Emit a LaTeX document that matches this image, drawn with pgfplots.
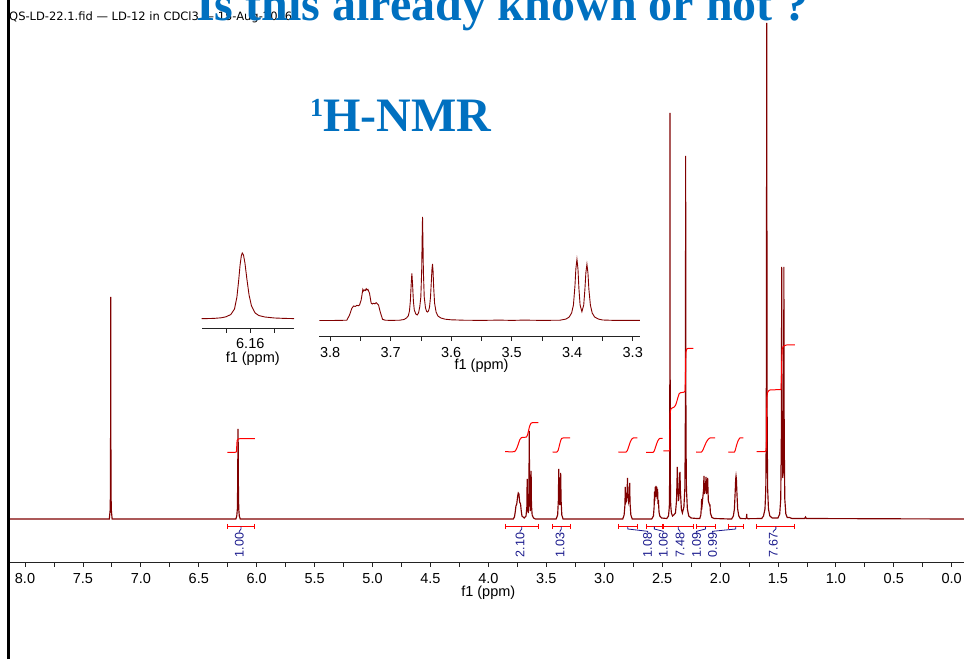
\documentclass[border=0pt]{standalone}
\usepackage{pgfplots}
\pgfplotsset{compat=1.18}
\usepackage{fontspec}
\setmainfont{Liberation Sans}
\newfontfamily\titlefont{Liberation Serif}
\newfontfamily\hdrfont{DejaVu Sans}
\definecolor{spec}{RGB}{128,0,0}
\definecolor{intred}{RGB}{255,0,0}
\definecolor{intblue}{RGB}{25,25,140}
\definecolor{titleblue}{RGB}{0,112,192}
\definecolor{axgray}{RGB}{35,35,35}
\pgfplotsset{nmr/.style={scale only axis, axis x line*=bottom, axis y line=none,
  x dir=reverse, clip=false, tick align=outside,
  major tick length=4pt, minor tick length=4pt,
  x axis line style={-, axgray, line width=1pt},
  every tick/.style={axgray, line width=0.8pt},
  xticklabel style={font=\fontsize{14.5}{15}\selectfont, anchor=center, inner sep=0pt, yshift=-12.3pt},
  xlabel style={font=\fontsize{14.5}{15}\selectfont, anchor=center, inner sep=0pt},
  ytick=\empty}}
\newcommand{\integ}[5]{% start, end, center, labelx, text
  \draw[intred, line width=1pt] (axis cs:#1,-7.7) -- (axis cs:#2,-7.7);
  \draw[intred, line width=1pt] (axis cs:#1,-5) -- (axis cs:#1,-10.4);
  \draw[intred, line width=1pt] (axis cs:#2,-5) -- (axis cs:#2,-10.4);
  \draw[intblue, line width=0.8pt] (axis cs:#3,-7.7) -- (axis cs:#3,-10) -- (axis cs:#4,-12.3) -- (axis cs:#4,-13.5);
  \node[intblue, rotate=90, anchor=east, inner sep=0pt, font=\fontsize{12.5}{13}\selectfont] at (axis cs:#4,-13.7) {#5};
}
\begin{document}
\begin{tikzpicture}
% header
\node[anchor=west, inner sep=0pt, font=\hdrfont\fontsize{11.5}{13}\selectfont] at (9pt,642pt) {QS-LD-22.1.fid — LD-12 in CDCl3 — 15-Aug-2016};
% main spectrum
\begin{axis}[nmr, at={(8pt,96.3pt)}, anchor=south west, width=956pt, height=562.7pt,
  xmin=-0.106, xmax=8.147, ymin=-43.7, ymax=519,
  xtick={0,0.5,1,1.5,2,2.5,3,3.5,4,4.5,5,5.5,6,6.5,7,7.5,8},
  xticklabels={0.0,0.5,1.0,1.5,2.0,2.5,3.0,3.5,4.0,4.5,5.0,5.5,6.0,6.5,7.0,7.5,8.0},
  minor x tick num=1,
  xlabel={f1 (ppm)}, xlabel style={at={(axis description cs:0.5024,0)}, yshift=-30.3pt}]
\addplot[spec, line width=1.15pt] coordinates {
(8.147,0) (7.30,0)
(7.272,0) (7.265,9) (7.2625,27) (7.261,100) (7.26,222) (7.259,100) (7.2575,27) (7.255,9) (7.248,0)
(6.50,0)
(6.18,0) (6.172,3) (6.167,10) (6.164,35) (6.162,80) (6.161,90) (6.160,80) (6.158,35) (6.155,10) (6.150,3) (6.142,0)
(3.80,0)
(3.785,0) (3.775,2) (3.768,7) (3.762,13) (3.755,15) (3.748,22) (3.742,26) (3.736,25) (3.730,17) (3.722,15) (3.716,8) (3.710,3) (3.700,2)
(3.690,1) (3.675,3) (3.668,12) (3.665,40) (3.662,12) (3.656,6) (3.650,28) (3.647,88) (3.644,28) (3.639,8) (3.634,16) (3.631,48) (3.628,14) (3.622,4) (3.610,1) (3.595,0)
(3.415,0) (3.402,4) (3.396,18) (3.392,50) (3.388,20) (3.384,14) (3.380,18) (3.376,46) (3.372,18) (3.366,4) (3.355,0)
(2.86,0)
(2.840,0) (2.828,4) (2.821,14) (2.818,32) (2.815,16) (2.808,18) (2.802,28) (2.799,41) (2.796,26) (2.790,18) (2.783,24) (2.780,36) (2.777,16) (2.770,4) (2.758,0)
(2.590,0) (2.575,3) (2.569,12) (2.566,27) (2.563,18) (2.560,32) (2.557,22) (2.553,33) (2.550,24) (2.546,32) (2.543,20) (2.539,30) (2.536,15) (2.532,19) (2.527,7) (2.520,3) (2.505,1)
(2.46,0.5) (2.445,3) (2.438,12) (2.435,40) (2.433,170) (2.432,406) (2.431,170) (2.429,40) (2.426,14) (2.42,6) (2.41,3) (2.40,4)
(2.385,6) (2.376,18) (2.372,35) (2.369,52) (2.365,32) (2.358,18) (2.352,28) (2.349,44) (2.346,47) (2.342,28) (2.334,10) (2.325,6)
(2.312,12) (2.304,30) (2.300,80) (2.298,200) (2.297,363) (2.296,200) (2.294,80) (2.290,30) (2.282,10) (2.270,3) (2.25,1) (2.20,0.5)
(2.175,0.5) (2.166,4) (2.161,12) (2.159,20) (2.154,15) (2.142,30) (2.139,43) (2.134,25) (2.124,35) (2.121,42) (2.116,25) (2.110,35) (2.107,41) (2.101,18) (2.090,14) (2.087,14) (2.083,6) (2.07,1.5) (2.05,0.5)
(1.92,0)
(1.90,0) (1.885,3) (1.876,10) (1.869,28) (1.865,40) (1.862,43) (1.859,40) (1.855,28) (1.848,10) (1.838,3) (1.825,0.5)
(1.780,0.3) (1.772,1) (1.770,5) (1.768,1) (1.76,0.3)
(1.64,0.5) (1.625,3) (1.612,10) (1.605,30) (1.601,90) (1.599,250) (1.597,496) (1.595,250) (1.593,90) (1.589,30) (1.582,10) (1.57,3) (1.55,1)
(1.50,1) (1.485,5) (1.476,20) (1.471,80) (1.469,180) (1.468,252) (1.466,150) (1.463,70) (1.458,41) (1.453,70) (1.450,150) (1.449,252) (1.448,180) (1.446,80) (1.441,20) (1.432,5) (1.42,1.5)
(1.40,1.5) (1.38,0.5) (1.27,0.5) (1.262,2) (1.255,0.5) (0.0,0) (-0.106,0)
};
% integral curves
\addplot[intred, line width=1pt, smooth] coordinates {(6.254,66.7) (6.185,66.7) (6.175,67.2) (6.173,70) (6.171,76) (6.168,78.8) (6.160,79.8) (6.144,80.3) (6.015,80.3)};
\addplot[intred, line width=1pt, smooth] coordinates {(3.856,67.3) (3.775,67.3) (3.765,68.5) (3.752,71.5) (3.740,75.5) (3.728,79.5) (3.715,81.3) (3.700,81.7) (3.672,81.9) (3.662,84) (3.652,89) (3.642,93.5) (3.632,95.8) (3.620,96.3) (3.569,96.3)};
\addplot[intred, line width=1pt, smooth] coordinates {(3.445,67) (3.408,67) (3.398,68.5) (3.388,73) (3.378,77.5) (3.368,80.5) (3.355,81) (3.295,81)};
\addplot[intred, line width=1pt, smooth] coordinates {(2.878,67) (2.810,67) (2.800,68.5) (2.788,72.5) (2.775,77) (2.760,80.2) (2.749,81) (2.714,81)};
\addplot[intred, line width=1pt, smooth] coordinates {(2.639,66.7) (2.578,66.7) (2.568,68) (2.555,72.5) (2.540,77.5) (2.525,80.3) (2.518,80.7) (2.495,80.7)};
\addplot[intred, line width=1pt] coordinates {(2.490,68) (2.438,68) (2.434,70) (2.432,90) (2.430,106) (2.426,109.5) (2.418,110.7) (2.395,112) (2.383,114) (2.372,118) (2.365,121) (2.352,125.5) (2.340,126.3) (2.311,126.8) (2.302,128) (2.299,140) (2.297,158) (2.294,167) (2.288,170) (2.275,170.7) (2.231,170.7)};
\addplot[intred, line width=1pt, smooth] coordinates {(2.207,67) (2.160,67) (2.150,68.5) (2.135,72.5) (2.118,77) (2.100,80) (2.087,81) (2.043,81)};
\addplot[intred, line width=1pt, smooth] coordinates {(1.929,67) (1.875,67) (1.868,69) (1.858,73.5) (1.845,78) (1.833,80.5) (1.828,81) (1.799,81)};
\addplot[intred, line width=1pt] coordinates {(1.684,67.3) (1.612,67.3) (1.602,68.5) (1.598,80) (1.597,110) (1.595,122) (1.590,126.5) (1.578,128.5) (1.569,129) (1.474,129.5) (1.470,140) (1.467,160) (1.463,170) (1.455,172.5) (1.440,173.5) (1.425,174) (1.353,174)};
% integration brackets and values
\integ{6.254}{6.015}{6.135}{6.150}{1.00}
\integ{3.856}{3.569}{3.712}{3.727}{2.10}
\integ{3.445}{3.295}{3.370}{3.382}{1.03}
\integ{2.878}{2.714}{2.796}{2.625}{1.08}
\integ{2.639}{2.495}{2.567}{2.490}{1.06}
\integ{2.490}{2.231}{2.360}{2.346}{7.48}
\integ{2.207}{2.043}{2.125}{2.202}{1.09}
\integ{1.929}{1.799}{1.864}{2.064}{0.99}
\integ{1.684}{1.353}{1.518}{1.540}{7.67}
\end{axis}
% inset 1: 6.16 ppm
\begin{axis}[nmr, at={(201.7pt,330pt)}, anchor=south west, width=92.3pt, height=80pt,
  xmin=6.142, xmax=6.180, ymin=-10, ymax=70,
  xtick={6.15,6.16,6.17}, xticklabels={,6.16,},
  xticklabel style={yshift=1.3pt},
  xlabel={f1 (ppm)}, xlabel style={at={(axis description cs:0.553,0)}, yshift=-29.6pt}]
\addplot[spec, line width=0.9pt] coordinates {
(6.180,0.3) (6.175,0.6) (6.172,1.2) (6.170,2.2) (6.168,4.5) (6.1665,10) (6.1655,22) (6.1648,38) (6.1642,54) (6.1637,63) (6.1633,66) (6.1628,64) (6.1622,56) (6.1614,40) (6.1605,24) (6.1595,13) (6.158,6) (6.1565,3.5) (6.154,2) (6.150,1) (6.146,0.6) (6.142,0.4)
};
\end{axis}
% inset 2: 3.3-3.8 ppm
\begin{axis}[nmr, at={(319.3pt,322.3pt)}, anchor=south west, width=320.7pt, height=125.7pt,
  xmin=3.288, xmax=3.818, ymin=-15.7, ymax=110,
  xtick={3.3,3.4,3.5,3.6,3.7,3.8}, xticklabels={3.3,3.4,3.5,3.6,3.7,3.8},
  minor x tick num=1,
  xlabel={f1 (ppm)}, xlabel style={at={(axis description cs:0.506,0)}, yshift=-29pt}]
\addplot[spec, line width=0.9pt] coordinates {
(3.818,0.5) (3.80,0.5) (3.785,0.6) (3.7725,0.8) (3.768,6) (3.7642,12.7) (3.7614,15) (3.7585,14.5) (3.7559,15.7) (3.7535,15.2) (3.7515,16) (3.7488,21) (3.7460,31.7) (3.7447,30) (3.7433,31) (3.7418,30.5) (3.7405,32.3) (3.7390,31) (3.7377,31.7) (3.7350,27.7) (3.7322,17.7) (3.7303,17) (3.7284,17.7) (3.7262,17.2) (3.7240,18.3) (3.7201,16) (3.7174,9.3) (3.7135,1.7) (3.7091,0.8) (3.700,0.6)
(3.685,0.8) (3.678,1.5) (3.674,3) (3.671,5) (3.669,10) (3.6675,20) (3.6662,36) (3.6650,47.7) (3.6638,36) (3.6625,20) (3.661,11) (3.6585,7) (3.6562,6) (3.654,8) (3.652,14) (3.6502,24) (3.6488,50) (3.6481,80) (3.6474,104) (3.6467,80) (3.6460,50) (3.6446,24) (3.6425,13) (3.6405,9.5) (3.6392,9) (3.6375,10) (3.6358,14) (3.6342,24) (3.6328,40) (3.6318,52) (3.6309,57) (3.6300,50) (3.6290,34) (3.6275,18) (3.625,9) (3.622,5) (3.617,3) (3.610,1.8) (3.600,1.2)
(3.58,0.8) (3.55,0.6) (3.52,0.9) (3.50,0.6) (3.48,0.9) (3.45,0.6) (3.42,0.8)
(3.41,2) (3.405,4) (3.401,8) (3.398,16) (3.3955,35) (3.394,52) (3.3922,61.7) (3.3905,52) (3.389,33) (3.387,16) (3.384,9.3) (3.381,16) (3.379,32) (3.3775,48) (3.3757,56.7) (3.374,48) (3.3725,32) (3.370,16) (3.367,8) (3.363,4) (3.357,2) (3.35,1) (3.33,0.6) (3.288,0.6)
};
\end{axis}
% left border line
\draw[black, line width=2.7pt] (8.7pt,0pt) -- (8.7pt,659pt);
% titles
\node[anchor=base west, inner sep=0pt, text=titleblue, font=\titlefont\bfseries\fontsize{48}{50}\selectfont] at (196pt,638.3pt) {Is this already known or not ?};
\node[anchor=base west, inner sep=0pt, text=titleblue, font=\titlefont\bfseries\fontsize{48}{50}\selectfont] at (310pt,527pt) {\raisebox{15pt}{\fontsize{26}{26}\selectfont 1}H-NMR};
\pgfresetboundingbox
\path[use as bounding box] (0pt,0pt) rectangle (964pt,659pt);
\end{tikzpicture}
\end{document}
